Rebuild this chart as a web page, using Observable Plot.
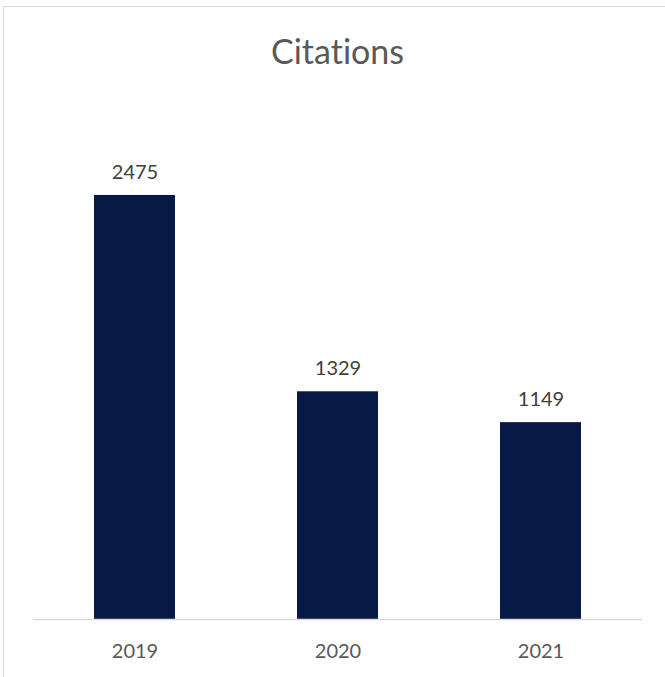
<!DOCTYPE html>
<html>
<head>
<meta charset="utf-8">
<script src="https://cdn.jsdelivr.net/npm/d3@7"></script>
<script src="https://cdn.jsdelivr.net/npm/@observablehq/plot@0.6"></script>
<style>
  html, body { margin: 0; padding: 0; background: #fff; overflow: hidden; }
  #wrap { position: relative; width: 665px; height: 677px; overflow: hidden; }
  #frame { position: absolute; left: 3px; top: 6px; width: 720px; height: 720px; border: 1.5px solid #d9d9d9; box-sizing: border-box; }
  #title { position: absolute; left: 0; top: 30px; width: 675px; text-align: center; font-family: Lato, "Open Sans", sans-serif; font-size: 34px; color: #595959; font-variant-ligatures: none; }
  #chart { position: absolute; left: 0; top: 0; }
  #chart svg text { font-variant-ligatures: none; }
</style>
</head>
<body>
<div id="wrap">
  <div id="frame"></div>
  <div id="title">Citations</div>
  <div id="chart"></div>
</div>
<script>
const years = ["2019", "2020", "2021"];
const citations = [2475, 1329, 1149];

const data = years.map((y, i) => ({year: y, value: citations[i]}));

const chart = Plot.plot({
  width: 665,
  height: 677,
  marginLeft: 33,
  marginRight: 23,
  marginTop: 105,
  marginBottom: 58,
  style: {fontFamily: "Lato, 'Open Sans', sans-serif", background: "transparent", overflow: "visible"},
  x: {domain: years, paddingInner: 0.6, paddingOuter: 0.3, label: null, tickSize: 0, tickPadding: 24},
  y: {domain: [0, 3000], axis: null},
  marks: [
    Plot.barY(data, {x: "year", y: "value", fill: "#061a45"}),
    Plot.ruleY([0], {stroke: "#d9d9d9", strokeWidth: 1.5}),
    Plot.text(data, {x: "year", y: "value", text: d => String(d.value), dy: -23, fontSize: 20, fill: "#404040"}),
    Plot.axisX({tickSize: 0, tickPadding: 24, fontSize: 20, color: "#595959", label: null})
  ]
});
chart.querySelectorAll("g[aria-label='x-axis tick label'] text, g[aria-label='x-axis tick label']").forEach(el => el.setAttribute("fill", "#595959"));
document.getElementById("chart").appendChild(chart);
</script>
</body>
</html>
